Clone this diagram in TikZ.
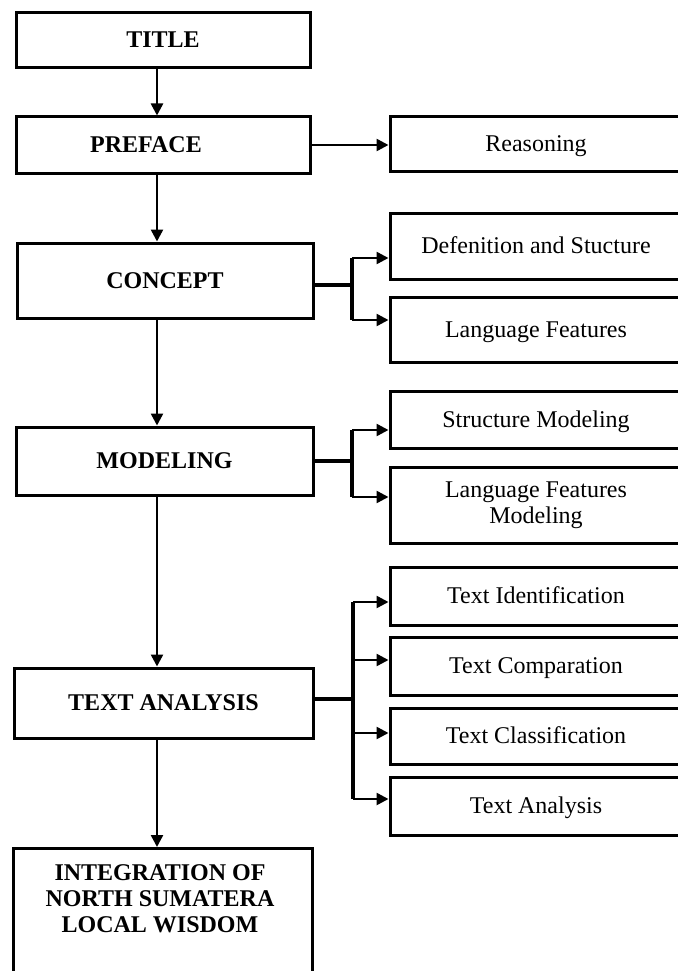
\documentclass[tikz,border=0pt]{standalone}
\usepackage{fontspec}
\setmainfont{Liberation Serif}
\usetikzlibrary{arrows.meta}
\begin{document}
\begin{tikzpicture}[x=1pt,y=-1pt,
  boxbase/.style={draw,line width=3pt,inner sep=0pt,align=center,
    font=\fontsize{24}{26}\selectfont},
  box/.style={boxbase,text height=18.5pt,text depth=3.5pt},
  lbox/.style={box,font=\fontsize{24}{26}\selectfont\bfseries},
  rbox/.style={box,minimum width=292pt},
  rboxml/.style={boxbase,minimum width=292pt},
  arr/.style={line width=2.5pt,-{Triangle[length=12pt,width=12pt]}},
  branch/.style={line width=3.8pt}]
\fill[white] (0,0) rectangle (677,971);
\useasboundingbox (0,0) rectangle (677,971);
\coordinate (ax) at (157,0);
% left column
\node[lbox,minimum width=294pt,minimum height=55pt] (title) at (163,40.5) {TITLE};
\node[lbox,minimum width=294pt,minimum height=56pt] (preface) at (163,145) {PREFACE\hspace*{34pt}};
\node[lbox,minimum width=296pt,minimum height=75pt] (concept) at (165,280.5) {CONCEPT};
\node[lbox,minimum width=297pt,minimum height=68pt] (modeling) at (164.5,461) {MODELING};
\node[lbox,minimum width=299pt,minimum height=70pt] (ta) at (163.5,703) {TEXT ANALYSIS};
\node[lbox,minimum width=299pt,minimum height=160pt,anchor=north] (int) at (162.5,847) {};
\node[font=\fontsize{24}{26}\selectfont\bfseries,align=center,inner sep=0pt] (inttext) at (160,899)
  {INTEGRATION OF\\NORTH SUMATERA\\LOCAL WISDOM};
% right column
\node[rbox,minimum height=54pt] (reason) at (536,144) {Reasoning};
\node[rbox,minimum height=66pt] (def) at (536,246) {Defenition and Stucture};
\node[rbox,minimum height=65pt] (lf) at (536,329.5) {Language Features};
\node[rbox,minimum height=57pt] (sm) at (536,419.5) {Structure Modeling};
\node[rboxml,minimum height=76pt] (lfm) at (536,505) {Language Features\\Modeling};
\node[rbox,minimum height=58pt] (ti) at (536,596) {Text Identification};
\node[rbox,minimum height=58pt] (tc) at (536,666) {Text Comparation};
\node[rbox,minimum height=56pt] (tcl) at (536,736) {Text Classification};
\node[rbox,minimum height=58pt] (tan) at (536,806) {Text Analysis};
% vertical flow
\draw[arr] (title.south -| ax) -- (preface.north -| ax);
\draw[arr] (preface.south -| ax) -- (concept.north -| ax);
\draw[arr] (concept.south -| ax) -- (modeling.north -| ax);
\draw[arr] (modeling.south -| ax) -- (ta.north -| ax);
\draw[arr] (ta.south -| ax) -- (int.north -| ax);
% preface -> reasoning
\draw[arr] (preface.east) -- (reason.west |- preface.east);
% concept branch
\coordinate (cj) at (352,285);
\coordinate (ct) at (352,258);
\coordinate (cb) at (352,320);
\draw[branch] (concept.east |- cj) -- (cj);
\draw[branch] (ct) -- (cb);
\draw[arr] (ct) -- (def.west |- ct);
\draw[arr] (cb) -- (lf.west |- cb);
% modeling branch
\coordinate (mj) at (352,461);
\coordinate (mt) at (352,430);
\coordinate (mb) at (352,497);
\draw[branch] (modeling.east |- mj) -- (mj);
\draw[branch] (mt) -- (mb);
\draw[arr] (mt) -- (sm.west |- mt);
\draw[arr] (mb) -- (lfm.west |- mb);
% text analysis branch
\coordinate (tj) at (353,699);
\coordinate (t1) at (353,602);
\coordinate (t2) at (353,660);
\coordinate (t3) at (353,733);
\coordinate (t4) at (353,799);
\draw[branch] (ta.east |- tj) -- (tj);
\draw[branch] (t1) -- (t4);
\draw[arr] (t1) -- (ti.west |- t1);
\draw[arr] (t2) -- (tc.west |- t2);
\draw[arr] (t3) -- (tcl.west |- t3);
\draw[arr] (t4) -- (tan.west |- t4);
\end{tikzpicture}
\end{document}
